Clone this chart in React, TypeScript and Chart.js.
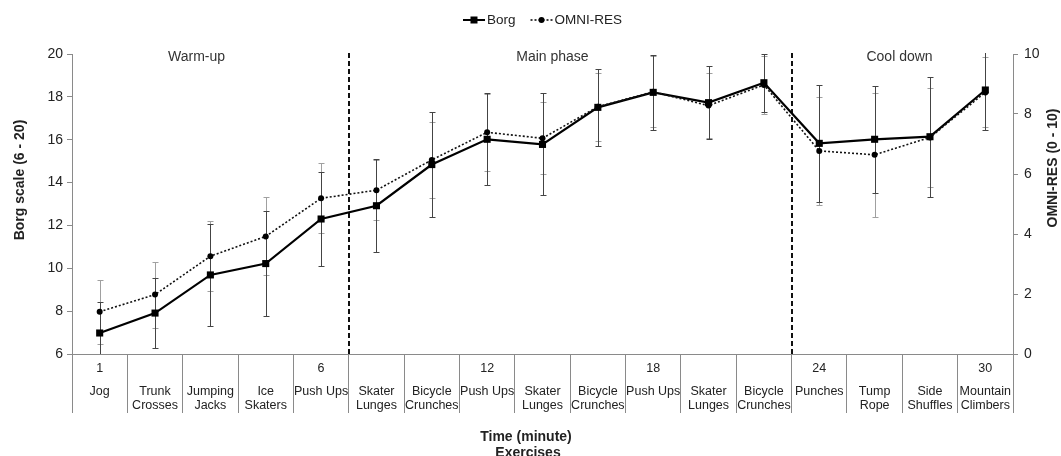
import React, { useEffect, useRef } from 'react';
import { Chart, registerables } from 'chart.js';

Chart.register(...registerables);

// ---- Data ----
const exercises: string[][] = [
  ['Jog'], ['Trunk', 'Crosses'], ['Jumping', 'Jacks'], ['Ice', 'Skaters'], ['Push Ups'],
  ['Skater', 'Lunges'], ['Bicycle', 'Crunches'], ['Push Ups'], ['Skater', 'Lunges'], ['Bicycle', 'Crunches'],
  ['Push Ups'], ['Skater', 'Lunges'], ['Bicycle', 'Crunches'], ['Punches'], ['Tump', 'Rope'],
  ['Side', 'Shuffles'], ['Mountain', 'Climbers'],
];
const timeLabels = ['1', '', '', '', '6', '', '', '12', '', '', '18', '', '', '24', '', '', '30'];

const borgMean = [6.98, 7.91, 9.69, 10.22, 12.3, 12.92, 14.84, 16.02, 15.78, 17.51, 18.21, 17.73, 18.66, 15.83, 16.02, 16.14, 18.32];
const borgSD = [1.46, 1.63, 2.36, 2.43, 2.18, 2.16, 2.44, 2.15, 2.38, 1.8, 1.75, 1.71, 1.35, 2.72, 2.49, 2.8, 1.87];
const omniMean = [1.41, 1.98, 3.26, 3.92, 5.19, 5.46, 6.47, 7.39, 7.19, 8.24, 8.74, 8.28, 8.97, 6.77, 6.64, 7.22, 8.72];
const omniSD = [1.06, 1.1, 1.17, 1.3, 1.17, 1.01, 1.27, 1.28, 1.2, 1.13, 1.19, 1.08, 0.96, 1.79, 2.07, 1.64, 1.17];

const phaseNames = ['Warm-up', 'Main phase', 'Cool down'];
const phaseLabelAt = [1.75, 8.18, 14.45];
const phaseBoundaries = [4.5, 12.5];

const FONT = "'Liberation Sans', Arial, sans-serif";
const TEXT = '#222';
const AXIS = '#8a8a8a';

const overlay = {
  id: 'overlay',
  beforeDatasetsDraw(chart: any) {
    const { ctx, chartArea } = chart;
    const xs = chart.scales.x;
    const ys = chart.scales.y;
    const ys1 = chart.scales.y1;
    ctx.save();
    ctx.beginPath();
    ctx.rect(chartArea.left, chartArea.top - 1, chartArea.right - chartArea.left, chartArea.bottom - chartArea.top + 1);
    ctx.clip();
    const bar = (x: number, y0: number, y1: number, color: string) => {
      ctx.strokeStyle = color;
      ctx.lineWidth = 1;
      ctx.beginPath();
      ctx.moveTo(x, y0);
      ctx.lineTo(x, y1);
      ctx.moveTo(x - 3, y0);
      ctx.lineTo(x + 3, y0);
      ctx.moveTo(x - 3, y1);
      ctx.lineTo(x + 3, y1);
      ctx.stroke();
    };
    for (let i = 0; i < omniMean.length; i++) {
      const x = Math.round(xs.getPixelForValue(i)) + 0.5;
      bar(x, Math.round(ys1.getPixelForValue(omniMean[i] + omniSD[i])) + 0.5, Math.round(ys1.getPixelForValue(omniMean[i] - omniSD[i])) + 0.5, '#a0a0a0');
    }
    for (let i = 0; i < borgMean.length; i++) {
      const x = Math.round(xs.getPixelForValue(i)) + 0.5;
      bar(x, Math.round(ys.getPixelForValue(borgMean[i] + borgSD[i])) + 0.5, Math.round(ys.getPixelForValue(borgMean[i] - borgSD[i])) + 0.5, '#444');
    }
    ctx.restore();

    // phase boundaries
    ctx.save();
    ctx.strokeStyle = '#111';
    ctx.lineWidth = 2;
    ctx.setLineDash([5, 3]);
    for (const b of phaseBoundaries) {
      const x = Math.round((xs.getPixelForValue(Math.floor(b)) + xs.getPixelForValue(Math.ceil(b))) / 2);
      ctx.beginPath();
      ctx.moveTo(x, chartArea.top - 1);
      ctx.lineTo(x, chartArea.bottom);
      ctx.stroke();
    }
    ctx.restore();
  },
  afterDraw(chart: any) {
    const { ctx, chartArea } = chart;
    const xs = chart.scales.x;
    ctx.save();
    ctx.fillStyle = TEXT;
    ctx.textBaseline = 'middle';
    ctx.textAlign = 'center';

    // phase labels
    ctx.font = `14px ${FONT}`;
    ctx.fillStyle = '#333';
    phaseNames.forEach((name, k) => {
      const f = phaseLabelAt[k];
      const i0 = Math.floor(f);
      const x = xs.getPixelForValue(i0) + (f - i0) * (xs.getPixelForValue(i0 + 1) - xs.getPixelForValue(i0));
      ctx.fillText(name, x, chartArea.top + 3);
    });

    // category labels
    ctx.fillStyle = TEXT;
    ctx.font = `12.5px ${FONT}`;
    const base = chartArea.bottom;
    for (let i = 0; i < exercises.length; i++) {
      const x = xs.getPixelForValue(i);
      if (timeLabels[i]) ctx.fillText(timeLabels[i], x, base + 15);
      exercises[i].forEach((line, k) => ctx.fillText(line, x, base + 38 + k * 14));
    }

    // axis titles
    ctx.font = `bold 14px ${FONT}`;
    ctx.fillText('Time (minute)', 526, base + 83);
    ctx.fillText('Exercises', 528, base + 99);
    ctx.save();
    ctx.translate(20, 180);
    ctx.rotate(-Math.PI / 2);
    ctx.fillText('Borg scale (6 - 20)', 0, 0);
    ctx.restore();
    ctx.save();
    ctx.translate(1053, 168);
    ctx.rotate(-Math.PI / 2);
    ctx.fillText('OMNI-RES (0 - 10)', 0, 0);
    ctx.restore();

    // legend
    const cx = (chartArea.left + chartArea.right) / 2;
    const ly = 20;
    ctx.font = `13.5px ${FONT}`;
    const w1 = ctx.measureText('Borg').width;
    const w2 = ctx.measureText('OMNI-RES').width;
    const sym = 22;
    const total = sym + 2 + w1 + 15 + sym + 2 + w2;
    let x = cx - total / 2;
    ctx.strokeStyle = '#000';
    ctx.fillStyle = '#000';
    ctx.lineWidth = 2;
    ctx.beginPath();
    ctx.moveTo(x, ly);
    ctx.lineTo(x + sym, ly);
    ctx.stroke();
    ctx.fillRect(x + sym / 2 - 3.5, ly - 3.5, 7, 7);
    x += sym + 2;
    ctx.textAlign = 'left';
    ctx.fillStyle = TEXT;
    ctx.fillText('Borg', x, ly);
    x += w1 + 15;
    ctx.lineWidth = 1.5;
    ctx.setLineDash([2, 2]);
    ctx.beginPath();
    ctx.moveTo(x, ly);
    ctx.lineTo(x + sym, ly);
    ctx.stroke();
    ctx.setLineDash([]);
    ctx.fillStyle = '#000';
    ctx.beginPath();
    ctx.arc(x + sym / 2, ly, 3, 0, Math.PI * 2);
    ctx.fill();
    x += sym + 2;
    ctx.fillStyle = TEXT;
    ctx.fillText('OMNI-RES', x, ly);
    ctx.restore();
  },
};

export default function App() {
  const ref = useRef<HTMLCanvasElement | null>(null);
  useEffect(() => {
    if (!ref.current) return;
    const chart = new Chart(ref.current, {
      type: 'line',
      data: {
        labels: exercises.map((e) => e.join(' ')),
        datasets: [
          {
            label: 'OMNI-RES',
            data: omniMean,
            yAxisID: 'y1',
            borderColor: '#111',
            backgroundColor: '#000',
            borderWidth: 1.6,
            borderDash: [2, 2],
            pointStyle: 'circle',
            pointRadius: 3,
            pointBorderWidth: 0,
            tension: 0,
          },
          {
            label: 'Borg',
            data: borgMean,
            yAxisID: 'y',
            borderColor: '#000',
            backgroundColor: '#000',
            borderWidth: 2.2,
            pointStyle: 'rect',
            pointRadius: 5,
            pointBorderWidth: 0,
            tension: 0,
          },
        ],
      },
      options: {
        responsive: false,
        animation: false,
        layout: { padding: { top: 54, left: 0, right: 0, bottom: 0 } },
        plugins: { legend: { display: false }, tooltip: { enabled: false } },
        scales: {
          x: {
            type: 'category',
            offset: true,
            grid: { offset: true, drawOnChartArea: false, drawTicks: true, tickLength: 59, color: AXIS, lineWidth: 1 },
            border: { color: AXIS },
            ticks: { display: false },
            afterFit: (s: any) => { s.height = 102; },
          },
          y: {
            position: 'left',
            min: 6,
            max: 20,
            ticks: { stepSize: 2, font: { size: 14, family: FONT }, color: TEXT, padding: 4 },
            grid: { drawOnChartArea: false, tickLength: 5, color: AXIS },
            border: { color: AXIS },
            afterFit: (s: any) => { s.width = 72; },
          },
          y1: {
            position: 'right',
            min: 0,
            max: 10,
            ticks: { stepSize: 2, font: { size: 14, family: FONT }, color: TEXT, padding: 6 },
            grid: { drawOnChartArea: false, tickLength: 5, color: AXIS },
            border: { color: AXIS },
            afterFit: (s: any) => { s.width = 48; },
          },
        },
      },
      plugins: [overlay],
    });
    return () => chart.destroy();
  }, []);
  return (
    <div style={{ position: 'fixed', left: 0, top: 0, width: 1061, height: 456, background: '#fff' }}>
      <canvas ref={ref} width={1061} height={456} style={{ display: 'block' }} />
    </div>
  );
}
